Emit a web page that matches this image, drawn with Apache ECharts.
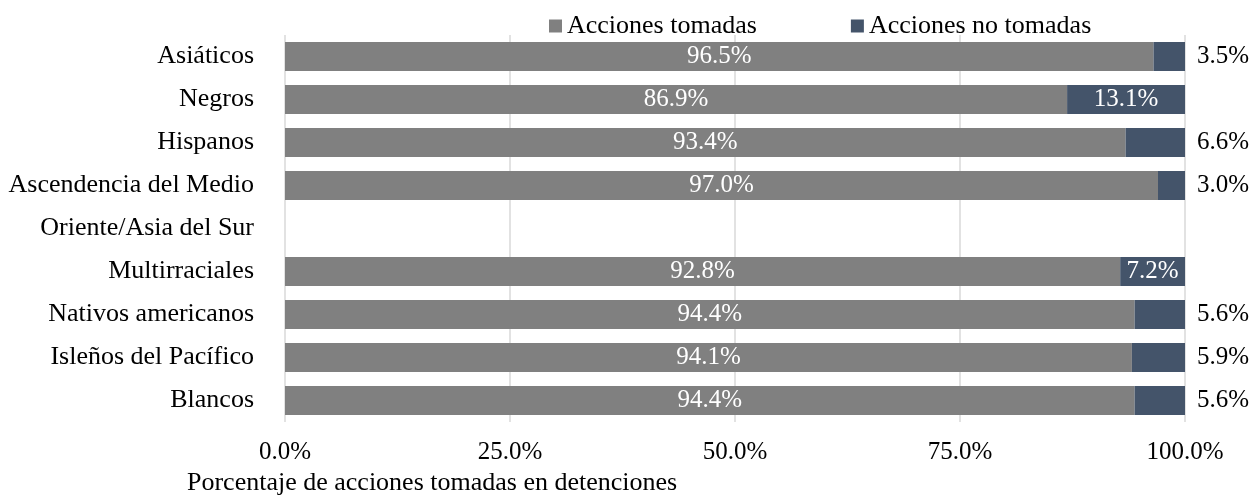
<!DOCTYPE html>
<html>
<head>
<meta charset="utf-8">
<title>Acciones tomadas en detenciones</title>
<script src="https://cdn.jsdelivr.net/npm/echarts@6/dist/echarts.min.js"></script>
<style>
  html, body { margin: 0; padding: 0; background: #fff; }
  #chart { width: 1253px; height: 500px; }
</style>
</head>
<body>
<div id="chart"></div>
<script>
// categorias (la fila vacia lleva la segunda linea de la etiqueta)
const categories = [
  'Asiáticos',
  'Negros',
  'Hispanos',
  'Ascendencia del Medio',
  'Oriente/Asia del Sur',
  'Multirraciales',
  'Nativos americanos',
  'Isleños del Pacífico',
  'Blancos'
]
const tomadas = [96.5, 86.9, 93.4, 97.0, null, 92.8, 94.4, 94.1, 94.4]
const noTomadas = [3.5, 13.1, 6.6, 3.0, null, 7.2, 5.6, 5.9, 5.6]
const xTicks = [0, 25, 50, 75, 100]

const font = "'Liberation Serif', 'Times New Roman', serif"
const grayColor = '#808080'
const blueColor = '#44546a'

const chart = echarts.init(document.getElementById('chart'))

// etiquetas pequeñas van fuera de la barra
const noTomadasData = noTomadas.map(v => {
  if (v === null) return null
  if (v >= 7) {
    return { value: v, label: { position: 'inside', color: '#fff' } }
  }
  return { value: v, label: { position: 'right', distance: 12, color: '#000' } }
})

chart.setOption({
  animation: false,
  textStyle: { fontFamily: font },
  title: {
    text: 'Porcentaje de acciones tomadas en detenciones',
    left: 187,
    top: 470,
    padding: 0,
    textStyle: { fontFamily: font, fontSize: 26, fontWeight: 'normal', color: '#000' }
  },
  legend: {
    left: 544,
    top: 8,
    itemWidth: 13,
    itemHeight: 13,
    itemGap: 94,
    icon: 'rect',
    textStyle: { fontFamily: font, fontSize: 26, color: '#000' },
    data: ['Acciones tomadas', 'Acciones no tomadas']
  },
  grid: {
    left: 285,
    right: 68,
    top: 35,
    bottom: 78
  },
  xAxis: {
    type: 'value',
    min: xTicks[0],
    max: xTicks[xTicks.length - 1],
    interval: 25,
    axisLine: { show: false },
    axisTick: { show: false },
    splitLine: { lineStyle: { color: '#d9d9d9', width: 1.5 } },
    axisLabel: {
      margin: 18,
      fontFamily: font,
      fontSize: 25,
      color: '#000',
      formatter: v => v.toFixed(1) + '%'
    }
  },
  yAxis: {
    type: 'category',
    inverse: true,
    data: categories,
    axisLine: { show: false },
    axisTick: { show: false },
    axisLabel: {
      margin: 31,
      fontFamily: font,
      fontSize: 26,
      color: '#000'
    }
  },
  series: [{
    name: 'Acciones tomadas',
    type: 'bar',
    stack: 'total',
    barWidth: 29,
    itemStyle: { color: grayColor },
    label: {
      show: true,
      position: 'inside',
      fontFamily: font,
      fontSize: 25,
      color: '#fff',
      formatter: p => p.value.toFixed(1) + '%'
    },
    data: tomadas
  }, {
    name: 'Acciones no tomadas',
    type: 'bar',
    stack: 'total',
    barWidth: 29,
    itemStyle: { color: blueColor },
    label: {
      show: true,
      fontFamily: font,
      fontSize: 25,
      formatter: p => p.value.toFixed(1) + '%'
    },
    data: noTomadasData
  }]
})
</script>
</body>
</html>
